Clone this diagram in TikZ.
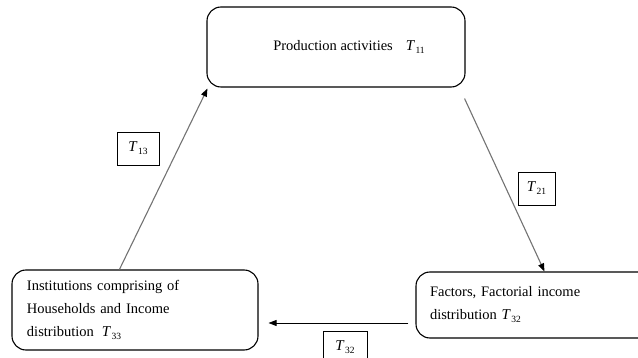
\documentclass[tikz,border=0pt]{standalone}
\usepackage{fontspec}
\setmainfont{Liberation Serif}
\usetikzlibrary{arrows.meta,calc}
\newcommand{\Tsub}[1]{{\fontsize{15}{15}\selectfont\textit{T}}\kern0.5pt{\fontsize{9.5}{9.5}\selectfont\raisebox{-3pt}{#1}}}
\begin{document}
\begin{tikzpicture}[x=1pt,y=-1pt,
  font=\fontsize{14.5}{23}\selectfont,
  bigbox/.style={draw=black,line width=1.1pt,rounded corners=14pt,inner sep=0pt},
  lab/.style={draw=black,line width=0.8pt,inner sep=0pt,minimum height=33pt},
  flow/.style={line width=1.1pt,-{Triangle[length=8pt,width=6pt,color=black]}}
]
\useasboundingbox (0,0) rectangle (638,358);
\clip (0,0) rectangle (638,358);
\node[bigbox,minimum width=258pt,minimum height=80pt] (prod) at (336,47)
  {\hspace*{26pt}Production activities\hspace{13pt}\Tsub{11}};
\node[bigbox,minimum width=246pt,minimum height=80pt,text width=216pt,align=left,inner xsep=15pt] (inst) at (135,310)
  {Institutions comprising of\\Households and Income\\distribution\hspace{8pt}\Tsub{33}};
\node[bigbox,minimum width=236pt,minimum height=66pt,text width=208pt,align=left,inner xsep=14pt] (fact) at (534,305)
  {Factors, Factorial income\\distribution \Tsub{32}};
\node[lab,minimum width=42pt] (l13) at (138,148.5) {\Tsub{13}};
\node[lab,minimum width=37pt] (l21) at (536.5,188.5) {\Tsub{21}};
\node[lab,minimum width=44pt] (l32) at (345,347.5) {\Tsub{32}};
\coordinate (a1s) at ($(inst.north west)+(108,0)$);
\coordinate (a1e) at ($(prod.south west)+(1,1)$);
\coordinate (a2s) at ($(prod.south east)+(-1,11)$);
\coordinate (a2e) at ($(fact.north west)+(129,0)$);
\coordinate (a3s) at ($(fact.west)+(-7,18)$);
\coordinate (a3e) at (a3s -| {$(inst.east)+(10,0)$});
\draw[flow,draw=black!55] (a1s) -- (a1e);
\draw[flow,draw=black!55] (a2s) -- (a2e);
\draw[flow,draw=black,line width=0.8pt] (a3s) -- (a3e);
\end{tikzpicture}
\end{document}
